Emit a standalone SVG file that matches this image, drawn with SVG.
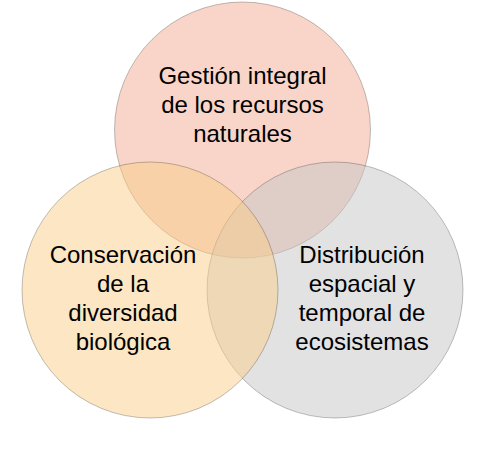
<svg xmlns="http://www.w3.org/2000/svg" width="490" height="471" viewBox="0 0 490 471">
<style>
.c{stroke:#000;stroke-opacity:0.3;stroke-width:0.8;fill-opacity:0.5}
.t{font-family:"Liberation Sans",Arial,sans-serif;font-size:24px;fill:#000;text-anchor:middle}
</style>
<rect width="490" height="471" fill="#fff"/>
<g id="node-gestion">
<circle class="c" cx="242.5" cy="130" r="128" fill="#F2AB92"/>
<text class="t" x="242.5" y="84">Gestión integral</text>
<text class="t" x="242.5" y="113">de los recursos</text>
<text class="t" x="242.5" y="142">naturales</text>
</g>
<g id="node-distribucion">
<circle class="c" cx="335" cy="290" r="128" fill="#C6C6C6"/>
<text class="t" x="362" y="263">Distribución</text>
<text class="t" x="362" y="292">espacial y</text>
<text class="t" x="362" y="321">temporal de</text>
<text class="t" x="362" y="350">ecosistemas</text>
</g>
<g id="node-conservacion">
<circle class="c" cx="150" cy="290" r="128" fill="#F9CD87"/>
<text class="t" x="123" y="263">Conservación</text>
<text class="t" x="123" y="292">de la</text>
<text class="t" x="123" y="321">diversidad</text>
<text class="t" x="123" y="350">biológica</text>
</g>
<g id="connectors"/>
</svg>
